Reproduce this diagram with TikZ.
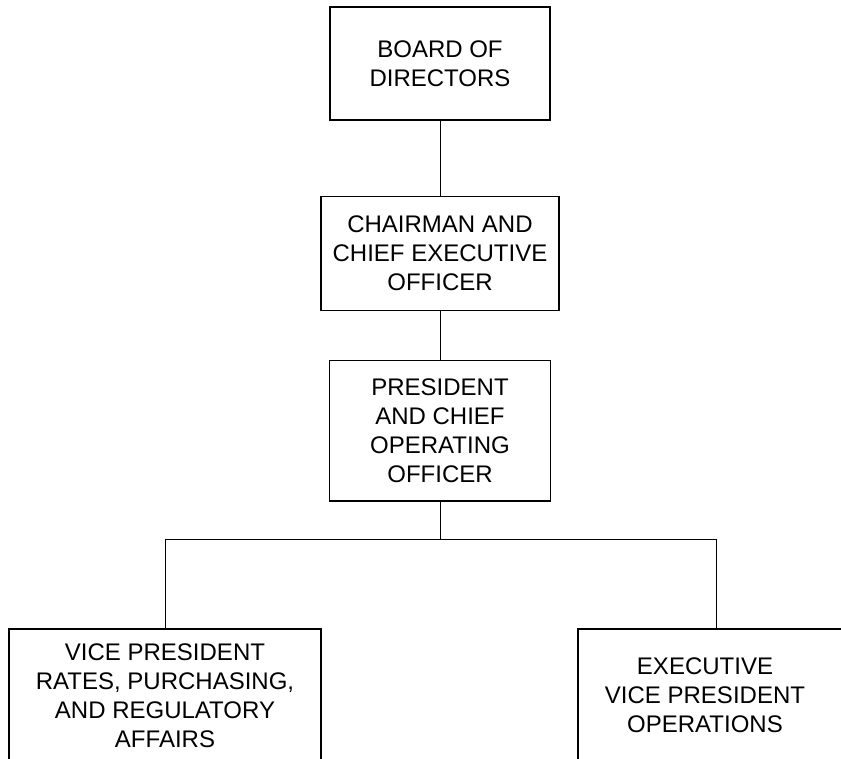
\documentclass[tikz,border=0pt]{standalone}
\usepackage{fontspec}
\setmainfont{Liberation Sans}
\usetikzlibrary{positioning}

\begin{document}
\begin{tikzpicture}[x=1pt, y=-1pt, node distance=49pt]
        \tikzstyle{caption} = [align=center, inner sep=0pt, font=\fontsize{24}{29}\selectfont]
        \tikzstyle{block} = [caption, rectangle, draw, line width=1.4pt]
        \tikzset{line/.style={draw, line width=0.9pt, color=black}}

        \useasboundingbox (0,0) rectangle (841,759);

        \node [block, minimum width=220pt, minimum height=113pt] (board) at (440,63.5) {BOARD OF\\DIRECTORS};
        \node [block, minimum width=238pt, minimum height=114pt, below=75pt of board] (ceo) {CHAIRMAN AND\\CHIEF EXECUTIVE\\OFFICER};
        \node [block, minimum width=221pt, minimum height=140pt, below=of ceo] (coo) {PRESIDENT\\AND CHIEF\\OPERATING\\OFFICER};
        \node [block, minimum width=312pt, minimum height=133pt] (vp) at (165,695.5) {VICE PRESIDENT\\RATES, PURCHASING,\\AND REGULATORY\\AFFAIRS};
        \node [block, minimum width=276pt, minimum height=133pt] (evpbox) at (716,695.5) {};
        \node [caption] (evp) at (705,695.5) {EXECUTIVE\\VICE PRESIDENT\\OPERATIONS};
        \coordinate [below=38pt of coo] (split);

        \path [line] (board) -- (ceo);
        \path [line] (ceo) -- (coo);
        \path [line] (coo) -- (split);
        \path [line] (split) -| (vp);
        \path [line] (split) -| (evpbox);

    \end{tikzpicture}
\end{document}
